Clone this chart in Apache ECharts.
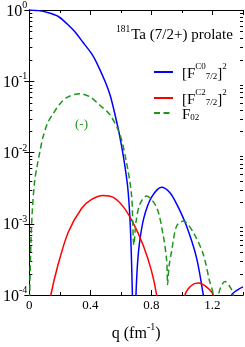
<!DOCTYPE html>
<html>
<head>
<meta charset="utf-8">
<script src="https://cdn.jsdelivr.net/npm/echarts@6/dist/echarts.min.js"></script>
<style>
html,body{margin:0;padding:0;background:#fff;}
#c{width:245px;height:347px;}
</style>
</head>
<body>
<div id="c"></div>
<script>
// ---- data: [q (fm^-1), value] ----
var blueC0 = [
  [0,1],[0.06,0.98],[0.12,0.92],[0.19,0.81],[0.25,0.63],[0.3,0.49],[0.35,0.355],
  [0.41,0.24],[0.45,0.166],[0.5,0.095],[0.53,0.063],[0.56,0.035],[0.59,0.018],
  [0.62,7.9e-3],[0.645,3.2e-3],[0.66,1.1e-3],[0.67,2.8e-4],[0.678,5e-5],[0.686,1e-6],
  [0.695,5e-5],[0.705,2e-4],[0.72,5e-4],[0.75,1.2e-3],[0.8,2.35e-3],[0.867,3.26e-3],
  [0.92,2.75e-3],[0.965,1.9e-3],[1.03,9.3e-4],[1.096,3.3e-4],[1.14,1e-4],[1.17,4e-5],
  [1.23,1e-6],[1.29,5e-5],[1.326,1e-4],[1.37,1.2e-4],[1.4,1.3e-4]
];
var redC2 = [
  [0,1e-7],[0.1,3e-5],[0.141,1e-4],[0.189,2.7e-4],[0.255,7.6e-4],[0.342,1.64e-3],
  [0.408,2.2e-3],[0.484,2.5e-3],[0.55,2.35e-3],[0.615,1.74e-3],[0.68,1.03e-3],
  [0.746,5e-4],[0.8,2.2e-4],[0.834,1e-4],[0.87,2.5e-5],[0.93,1e-7],[0.98,3e-5],
  [1.02,1e-4],[1.06,1.35e-4],[1.107,1.47e-4],[1.16,1.3e-4],[1.205,1e-4],[1.25,3e-5],
  [1.3,1e-7],[1.35,1e-5],[1.4,2e-5]
];
var greenF02 = [
  [0,1e-7],[0.003,1e-4],[0.01,5e-4],[0.02,1.6e-3],[0.035,4e-3],[0.05,6.3e-3],
  [0.07,0.0105],[0.09,0.0166],[0.12,0.026],[0.156,0.035],[0.2,0.048],[0.25,0.06],
  [0.331,0.067],[0.4,0.06],[0.462,0.046],[0.528,0.034],[0.593,0.018],[0.637,7.2e-3],
  [0.67,2.5e-3],[0.685,5e-4],[0.7,1.1e-3],[0.725,1.9e-3],[0.768,2.45e-3],[0.834,1.7e-3],
  [0.877,6.9e-4],[0.9,3e-4],[0.906,1.4e-4],[0.915,2.5e-4],[0.932,4.1e-4],[0.965,9.3e-4],
  [1.009,1.09e-3],[1.074,7.6e-4],[1.14,3.7e-4],[1.18,1.6e-4],[1.205,1e-4],[1.222,1e-6],
  [1.24,1e-4],[1.282,1.55e-4],[1.336,1e-4],[1.37,1e-6],[1.4,5e-5]
];
var xTicks = [0, 0.4, 0.8, 1.2];
var yDecades = [1e-4, 1e-3, 1e-2, 1e-1, 1];
var seriesNames = ['C0', 'C2', 'F02'];

var SERIF = 'Liberation Serif';
var chart = echarts.init(document.getElementById('c'), null, {renderer: 'canvas'});

var supSub = {
  n: {fontSize: 15, fontFamily: SERIF, color: '#000', verticalAlign: 'bottom', padding: [5, 0, 0, 0]},
  sup: {fontSize: 9, fontFamily: SERIF, color: '#000', verticalAlign: 'top'},
  sub: {fontSize: 9, fontFamily: SERIF, color: '#000', verticalAlign: 'bottom', padding: [0, 0, 1, 0]}
};
var legendLabels = {
  'C0': '{n|[F}{sup|C0}{sub|7/2}{n|]}{sup|2}',
  'C2': '{n|[F}{sup|C2}{sub|7/2}{n|]}{sup|2}',
  'F02': '{n|F}{sub|02}'
};
function mkLegend(name, top) {
  return {
    data: [name], left: 153, top: top, orient: 'vertical',
    itemWidth: 19, itemHeight: 10, padding: 0,
    itemStyle: {opacity: 0},
    formatter: function (n) { return legendLabels[n]; },
    textStyle: {rich: supSub, fontFamily: SERIF, padding: [0, 0, 0, 4]}
  };
}
function xAx(pos, interval, len, labels) {
  return {
    type: 'value', position: pos, min: 0, max: 1.4, interval: interval,
    axisLine: {show: true, lineStyle: {color: '#000', width: 1}},
    axisTick: {show: true, inside: true, length: len, lineStyle: {color: '#000'}},
    axisLabel: labels ? {
      show: true, fontFamily: SERIF, fontSize: 13, color: '#000', margin: 4,
      showMaxLabel: false,
      formatter: function (v) { return xTicks.indexOf(Math.round(v * 10) / 10) >= 0 ? String(Math.round(v * 10) / 10) : ''; }
    } : {show: false},
    splitLine: {show: false}
  };
}
var bottomX = xAx('bottom', 0.4, 5, true);
bottomX.name = '{n|q (fm}{sup|-1}{n|)}';
bottomX.nameLocation = 'middle';
bottomX.nameGap = 27;
bottomX.nameTextStyle = {fontFamily: SERIF, rich: {
  n: {fontSize: 16, fontFamily: SERIF, color: '#000', verticalAlign: 'bottom', padding: [4, 0, 0, 0]},
  sup: {fontSize: 10, fontFamily: SERIF, color: '#000', verticalAlign: 'top'}
}};

function yAx(pos, labels) {
  return {
    type: 'log', logBase: 10, position: pos, min: 1e-4, max: 1,
    axisLine: {show: true, lineStyle: {color: '#000', width: 1}},
    axisTick: {show: true, inside: true, length: 5, lineStyle: {color: '#000'}},
    axisLabel: labels ? {
      show: true, margin: 2, fontFamily: SERIF,
      formatter: function (v) {
        var e = Math.round(Math.log10(v));
        return '{b|10}{s|' + (e < 0 ? '-' + (-e) : e) + '}';
      },
      rich: {
        b: {fontSize: 16, fontFamily: SERIF, color: '#000', verticalAlign: 'bottom', padding: [3, 0, 0, 0]},
        s: {fontSize: 10, fontFamily: SERIF, color: '#000', verticalAlign: 'top'}
      }
    } : {show: false},
    splitLine: {show: false}
  };
}

function mkSeries(name, data, color, dashed) {
  return {
    name: name, type: 'line', data: data, symbol: 'none', smooth: 0.3,
    xAxisIndex: 0, yAxisIndex: 0, clip: true,
    lineStyle: {color: color, width: 1.5, type: dashed ? [6, 3.5] : 'solid'},
    itemStyle: {color: color},
    animation: false
  };
}

var option = {
  animation: false,
  backgroundColor: '#fff',
  grid: {left: 29, right: 2, top: 10, bottom: 38, containLabel: false},
  xAxis: [bottomX, xAx('bottom', 0.2, 3, false), xAx('top', 0.4, 5, false), xAx('top', 0.2, 3, false)],
  yAxis: [yAx('left', true), yAx('right', false)],
  legend: [mkLegend('C0', 62), mkLegend('C2', 88), mkLegend('F02', 108)],
  series: [
    mkSeries('C0', blueC0, '#0000ff', false),
    mkSeries('C2', redC2, '#ff0000', false),
    mkSeries('F02', greenF02, '#1e961e', true)
  ]
};
chart.setOption(option);

// minor log ticks (2..9 per decade), positioned through the axis scale
var g = [];
var xL = chart.convertToPixel({xAxisIndex: 0}, 0);
var xR = chart.convertToPixel({xAxisIndex: 0}, 1.4);
for (var d = 0; d < yDecades.length - 1; d++) {
  for (var m = 2; m <= 9; m++) {
    var yp = Math.round(chart.convertToPixel({yAxisIndex: 0}, m * yDecades[d])) + 0.5;
    g.push({type: 'line', shape: {x1: xL, y1: yp, x2: xL + 3, y2: yp}, style: {stroke: '#000', lineWidth: 1}, silent: true});
    g.push({type: 'line', shape: {x1: xR, y1: yp, x2: xR - 3, y2: yp}, style: {stroke: '#000', lineWidth: 1}, silent: true});
  }
}
g.push({
  type: 'text', left: 116, top: 24,
  style: {
    text: '{sup|181}{n|Ta (7/2+) prolate}',
    rich: {
      n: {fontSize: 15, fontFamily: SERIF, fill: '#000', color: '#000', verticalAlign: 'bottom', padding: [4, 0, 0, 1]},
      sup: {fontSize: 9.5, fontFamily: SERIF, fill: '#000', color: '#000', verticalAlign: 'top'}
    }
  }
});
g.push({
  type: 'text', left: 75, top: 118,
  style: {text: '(-)', fontSize: 13, fontFamily: SERIF, fill: '#1e961e'}
});
chart.setOption({graphic: g});
</script>
</body>
</html>
